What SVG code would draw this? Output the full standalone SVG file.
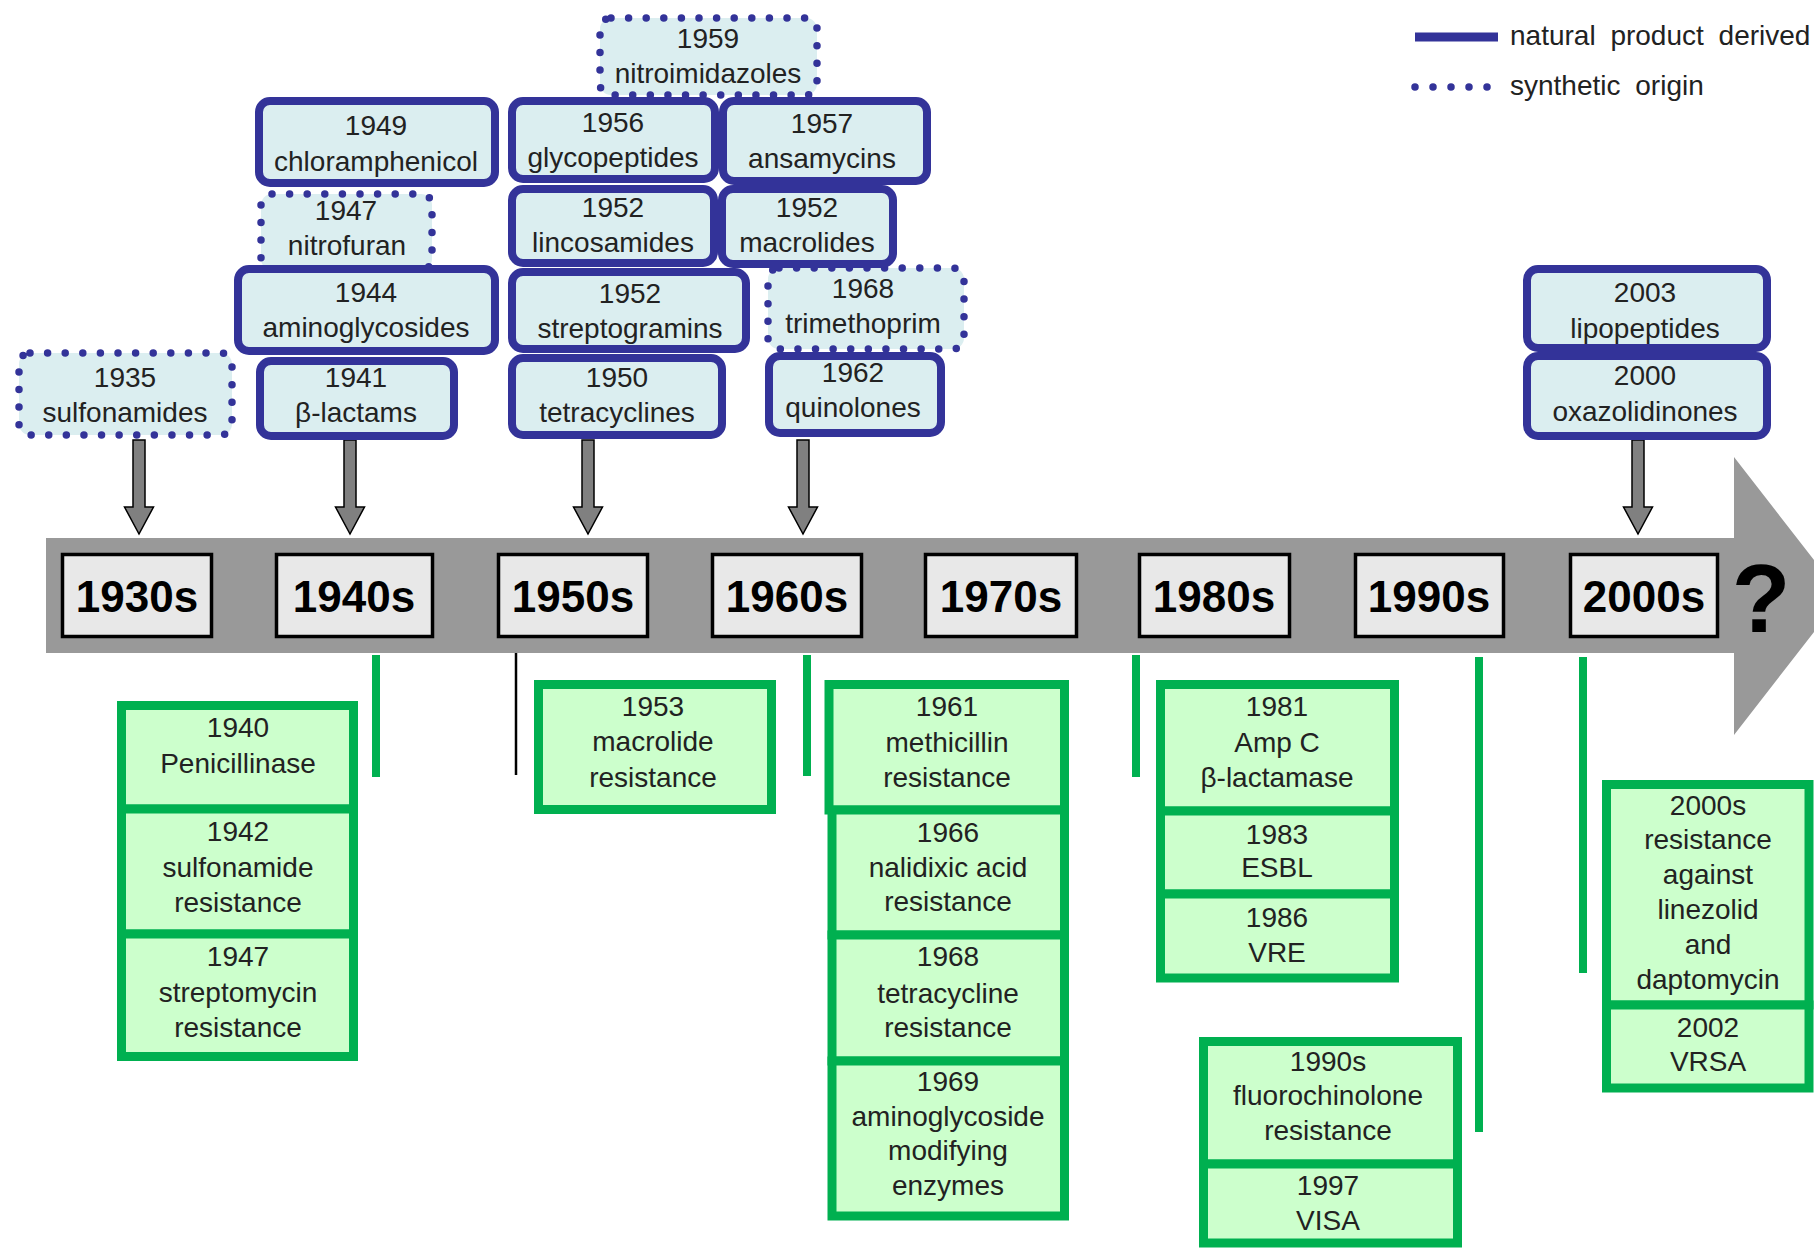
<svg xmlns="http://www.w3.org/2000/svg" width="1814" height="1248" viewBox="0 0 1814 1248">
<defs>
<style>
text{font-family:"Liberation Sans",Arial,sans-serif;fill:#222;text-anchor:middle;font-size:28px}
.nat{fill:#dbeef0;stroke:#333399;stroke-width:8}
.syn{fill:#dbeef0;stroke:#333399;stroke-width:7.5;stroke-dasharray:0 17.6;stroke-linecap:round}
.dec{fill:#e8e8e8;stroke:#000;stroke-width:3.5}
.dect{font-weight:bold;font-size:44px;fill:#000}
.res{fill:#ccffcc;stroke:#00b050;stroke-width:9}
.arr{fill:#808080;stroke:#000;stroke-width:1.5}
.gl{stroke:#00b050;stroke-width:8}
.leg{text-anchor:start;word-spacing:7px}
</style>
</defs>
<rect width="1814" height="1248" fill="#fff"/>

<!-- timeline bar -->
<path id="timeline" d="M46,538 H1734 V457 L1842,596 L1734,735 V653 H46 Z" fill="#999999"/>
<text x="1761" y="632" style="font-weight:bold;font-size:96px;fill:#000">?</text>

<!-- legend -->
<g id="legend">
<line x1="1415" y1="37" x2="1498" y2="37" stroke="#333399" stroke-width="9"/>
<line x1="1415" y1="87" x2="1488" y2="87" stroke="#333399" stroke-width="7.5" stroke-linecap="round" stroke-dasharray="0 18"/>
<text class="leg" x="1510" y="45">natural product derived</text>
<text class="leg" x="1510" y="95">synthetic origin</text>
</g>

<!-- connectors -->
<g id="connectors">
<polygon class="arr" points="133,440 145,440 145,507 153.5,507 139,534 124.5,507 133,507"/>
<polygon class="arr" points="344,440 356,440 356,507 364.5,507 350,534 335.5,507 344,507"/>
<polygon class="arr" points="582,440 594,440 594,507 602.5,507 588,534 573.5,507 582,507"/>
<polygon class="arr" points="797,440 809,440 809,507 817.5,507 803,534 788.5,507 797,507"/>
<polygon class="arr" points="1632,440 1644,440 1644,507 1652.5,507 1638,534 1623.5,507 1632,507"/>
<line class="gl" x1="376" y1="655" x2="376" y2="777"/>
<line x1="516" y1="653" x2="516" y2="775" stroke="#000" stroke-width="2.5"/>
<line class="gl" x1="807" y1="655" x2="807" y2="776"/>
<line class="gl" x1="1136" y1="655" x2="1136" y2="777"/>
<line class="gl" x1="1479" y1="657" x2="1479" y2="1132"/>
<line class="gl" x1="1583" y1="657" x2="1583" y2="973"/>
</g>

<!-- discovery nodes -->
<g id="n1935"><rect class="syn" x="19" y="353" width="213" height="82" rx="11"/><text x="125" y="387">1935</text><text x="125" y="422">sulfonamides</text></g>
<g id="n1947"><rect class="syn" x="261" y="194" width="171" height="76" rx="11"/><text x="346" y="220">1947</text><text x="347" y="255">nitrofuran</text></g>
<g id="n1941"><rect class="nat" x="260" y="361" width="194" height="75" rx="11"/><text x="356" y="387">1941</text><text x="356" y="422">β-lactams</text></g>
<g id="n1944"><rect class="nat" x="238" y="269" width="257" height="82" rx="11"/><text x="366" y="302">1944</text><text x="366" y="337">aminoglycosides</text></g>
<g id="n1949"><rect class="nat" x="259" y="101" width="236" height="82" rx="11"/><text x="376" y="135">1949</text><text x="376" y="171">chloramphenicol</text></g>
<g id="n1959"><rect class="syn" x="600" y="18" width="217" height="77" rx="11"/><text x="708" y="48">1959</text><text x="708" y="83">nitroimidazoles</text></g>
<g id="n1968t"><rect class="syn" x="768" y="268" width="196" height="81" rx="11"/><text x="863" y="298">1968</text><text x="863" y="333">trimethoprim</text></g>
<g id="n1956"><rect class="nat" x="512" y="101" width="203" height="78" rx="11"/><text x="613" y="132">1956</text><text x="613" y="167">glycopeptides</text></g>
<g id="n1957"><rect class="nat" x="723" y="101" width="204" height="80" rx="11"/><text x="822" y="133">1957</text><text x="822" y="168">ansamycins</text></g>
<g id="n1952l"><rect class="nat" x="512" y="189" width="202" height="74" rx="11"/><text x="613" y="217">1952</text><text x="613" y="252">lincosamides</text></g>
<g id="n1952m"><rect class="nat" x="722" y="189" width="171" height="75" rx="11"/><text x="807" y="217">1952</text><text x="807" y="252">macrolides</text></g>
<g id="n1952s"><rect class="nat" x="512" y="272" width="234" height="77" rx="11"/><text x="630" y="303">1952</text><text x="630" y="338">streptogramins</text></g>
<g id="n1950"><rect class="nat" x="512" y="358" width="210" height="77" rx="11"/><text x="617" y="387">1950</text><text x="617" y="422">tetracyclines</text></g>
<g id="n1962"><rect class="nat" x="769" y="356" width="172" height="77" rx="11"/><text x="853" y="382">1962</text><text x="853" y="417">quinolones</text></g>
<g id="n2003"><rect class="nat" x="1527" y="269" width="240" height="79" rx="11"/><text x="1645" y="302">2003</text><text x="1645" y="338">lipopeptides</text></g>
<g id="n2000"><rect class="nat" x="1527" y="356" width="240" height="80" rx="11"/><text x="1645" y="385">2000</text><text x="1645" y="421">oxazolidinones</text></g>

<!-- decade boxes -->
<g id="d1930"><rect class="dec" x="62.5" y="554.5" width="149" height="82"/><text class="dect" x="137" y="612">1930s</text></g>
<g id="d1940"><rect class="dec" x="276.5" y="554.5" width="156" height="82"/><text class="dect" x="354" y="612">1940s</text></g>
<g id="d1950"><rect class="dec" x="498.5" y="554.5" width="149" height="82"/><text class="dect" x="573" y="612">1950s</text></g>
<g id="d1960"><rect class="dec" x="712.5" y="554.5" width="149" height="82"/><text class="dect" x="787" y="612">1960s</text></g>
<g id="d1970"><rect class="dec" x="925.5" y="554.5" width="151" height="82"/><text class="dect" x="1001" y="612">1970s</text></g>
<g id="d1980"><rect class="dec" x="1139.5" y="554.5" width="150" height="82"/><text class="dect" x="1214" y="612">1980s</text></g>
<g id="d1990"><rect class="dec" x="1355.5" y="554.5" width="148" height="82"/><text class="dect" x="1429" y="612">1990s</text></g>
<g id="d2000"><rect class="dec" x="1570.5" y="554.5" width="147" height="82"/><text class="dect" x="1644" y="612">2000s</text></g>

<!-- resistance nodes -->
<g id="r1940"><rect class="res" x="121.5" y="705.5" width="232" height="103.5"/><text x="238" y="737">1940</text><text x="238" y="773">Penicillinase</text></g>
<g id="r1942"><rect class="res" x="121.5" y="809" width="232" height="125"/><text x="238" y="841">1942</text><text x="238" y="877">sulfonamide</text><text x="238" y="912">resistance</text></g>
<g id="r1947"><rect class="res" x="121.5" y="934" width="232" height="122.5"/><text x="238" y="966">1947</text><text x="238" y="1002">streptomycin</text><text x="238" y="1037">resistance</text></g>
<g id="r1953"><rect class="res" x="538.5" y="684.5" width="233" height="125"/><text x="653" y="716">1953</text><text x="653" y="751">macrolide</text><text x="653" y="787">resistance</text></g>
<g id="r1961"><rect class="res" x="829" y="684.5" width="235.5" height="125.5"/><text x="947" y="716">1961</text><text x="947" y="752">methicillin</text><text x="947" y="787">resistance</text></g>
<g id="r1966"><rect class="res" x="832" y="810" width="232.5" height="125"/><text x="948" y="842">1966</text><text x="948" y="877">nalidixic acid</text><text x="948" y="911">resistance</text></g>
<g id="r1968"><rect class="res" x="832" y="935" width="232.5" height="126"/><text x="948" y="966">1968</text><text x="948" y="1003">tetracycline</text><text x="948" y="1037">resistance</text></g>
<g id="r1969"><rect class="res" x="832" y="1061" width="232.5" height="155"/><text x="948" y="1091">1969</text><text x="948" y="1126">aminoglycoside</text><text x="948" y="1160">modifying</text><text x="948" y="1195">enzymes</text></g>
<g id="r1981"><rect class="res" x="1160.5" y="684.5" width="234" height="126.5"/><text x="1277" y="716">1981</text><text x="1277" y="752">Amp C</text><text x="1277" y="787">β-lactamase</text></g>
<g id="r1983"><rect class="res" x="1160.5" y="811" width="234" height="83"/><text x="1277" y="844">1983</text><text x="1277" y="877">ESBL</text></g>
<g id="r1986"><rect class="res" x="1160.5" y="894" width="234" height="84"/><text x="1277" y="927">1986</text><text x="1277" y="962">VRE</text></g>
<g id="r1990"><rect class="res" x="1203.5" y="1041.5" width="254" height="122.5"/><text x="1328" y="1071">1990s</text><text x="1328" y="1105">fluorochinolone</text><text x="1328" y="1140">resistance</text></g>
<g id="r1997"><rect class="res" x="1203.5" y="1164" width="254" height="79"/><text x="1328" y="1195">1997</text><text x="1328" y="1230">VISA</text></g>
<g id="r2000"><rect class="res" x="1606.5" y="784.5" width="202.5" height="220.5"/><text x="1708" y="815">2000s</text><text x="1708" y="849">resistance</text><text x="1708" y="884">against</text><text x="1708" y="919">linezolid</text><text x="1708" y="954">and</text><text x="1708" y="989">daptomycin</text></g>
<g id="r2002"><rect class="res" x="1606.5" y="1005" width="202.5" height="83"/><text x="1708" y="1037">2002</text><text x="1708" y="1071">VRSA</text></g>
</svg>
